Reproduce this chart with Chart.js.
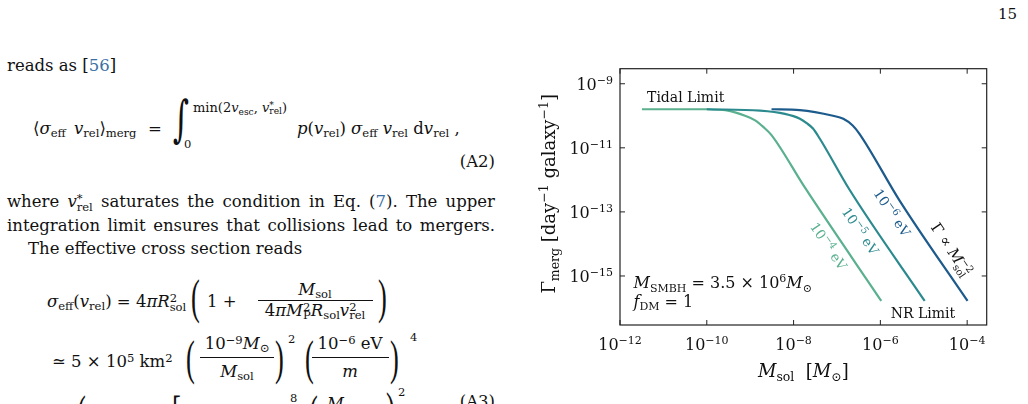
<!DOCTYPE html>
<html lang="en">
<head>
<meta charset="utf-8">
<title>Merger rate vs soliton mass</title>
<script src="https://cdn.jsdelivr.net/npm/chart.js@4.4.1/dist/chart.umd.min.js"></script>
<style>
html, body { margin: 0; padding: 0; background: #fff; }
body { position: relative; width: 1028px; height: 404px; overflow: hidden;
  font-family: "DejaVu Serif", serif; font-size: 16.5px; color: #111; }
.b { position: absolute; line-height: 1; white-space: nowrap; top: calc(var(--b) - 0.846em); }
.c { transform: translateX(-50%); }
.j { width: 488px; text-align: justify; text-align-last: justify; }
.sm { font-size: 11.5px; }
i { font-style: italic; }
sub, sup { font-size: 0.7em; line-height: 0; }
sub { vertical-align: -0.3em; }
sup { vertical-align: 0.45em; }
.cite { color: #3b6fa3; }
.bar { position: absolute; height: 1px; background: #111; }
.pr { position: absolute; line-height: 1; font-family: "Liberation Serif", serif; font-size: 48px;
  top: calc(var(--b) - 0.8375em); transform: scaleX(0.55); transform-origin: left; }
.intg { position: absolute; line-height: 1; font-size: 50px; top: calc(var(--b) - 0.846em);
  transform: scaleX(0.62); transform-origin: left; }
#chartBox { position: absolute; left: 530px; top: 55px; width: 470px; height: 345px; }
</style>
</head>
<body>

<div class="b" style="right:11px;--b:20px;font-size:15px">15</div>

<div class="b" style="left:7px;--b:71.5px">reads as [<span class="cite">56</span>]</div>

<!-- (A2) -->
<div class="b" style="left:33px;--b:135px;word-spacing:3px">⟨<i>σ</i><sub>eff</sub> <i>v</i><sub>rel</sub>⟩<sub>merg</sub>&thinsp; = </div>
<div class="intg" style="left:173px;--b:136px">∫</div>
<div class="b" style="left:193px;--b:111.5px;font-size:13px">min(2<i>v</i><sub>esc</sub>, <i>v</i><sup>*</sup><sub style="margin-left:-0.5em">rel</sub>)</div>
<div class="b sm" style="left:184px;--b:148.5px">0</div>
<div class="b" style="left:297px;--b:135px"><i>p</i>(<i>v</i><sub>rel</sub>) <i>σ</i><sub>eff</sub> <i>v</i><sub>rel</sub> d<i>v</i><sub>rel</sub> ,</div>
<div class="b" style="right:533px;--b:168.3px">(A2)</div>

<div class="b j" style="left:7px;--b:208.3px">where <i>v</i><sup>*</sup><sub style="margin-left:-0.5em">rel</sub> saturates the condition in Eq. (<span class="cite">7</span>). The upper</div>
<div class="b j" style="left:7px;--b:231.7px">integration limit ensures that collisions lead to mergers.</div>
<div class="b" style="left:28px;--b:255px">The effective cross section reads</div>

<!-- (A3) first row -->
<div class="b" style="left:47px;--b:308.3px"><i>σ</i><sub>eff</sub>(<i>v</i><sub>rel</sub>) = 4<i>πR</i><sup>2</sup><sub style="margin-left:-0.636em">sol</sub></div>
<div class="pr" style="left:191px;--b:313px">(</div>
<div class="b" style="left:207px;--b:308.3px">1 +</div>
<div class="b c" style="left:315px;--b:296px"><i>M</i><sub>sol</sub></div>
<div class="bar" style="left:258px;top:300px;width:115px"></div>
<div class="b c" style="left:315px;--b:316.7px">4<i>πM</i><sup>2</sup><sub style="margin-left:-0.636em">P</sub><i>R</i><sub>sol</sub><i>v</i><sup>2</sup><sub style="margin-left:-0.636em">rel</sub></div>
<div class="pr" style="left:378px;--b:313px">)</div>

<!-- (A3) second row -->
<div class="b" style="left:52px;--b:368.3px">≃ 5 × 10<sup>5</sup> km<sup>2</sup></div>
<div class="pr" style="left:186px;--b:374px">(</div>
<div class="b c" style="left:237px;--b:350px">10<sup>−9</sup><i>M</i><sub>⊙</sub></div>
<div class="bar" style="left:200px;top:357px;width:74px"></div>
<div class="b c" style="left:237px;--b:378px"><i>M</i><sub>sol</sub></div>
<div class="pr" style="left:275px;--b:374px">)</div>
<div class="b sm" style="left:288px;--b:344px">2</div>
<div class="pr" style="left:305px;--b:374px">(</div>
<div class="b c" style="left:350px;--b:350px">10<sup>−6</sup> eV</div>
<div class="bar" style="left:312px;top:357px;width:77px"></div>
<div class="b c" style="left:350px;--b:378px"><i>m</i></div>
<div class="pr" style="left:390px;--b:374px">)</div>
<div class="b sm" style="left:410px;--b:342px">4</div>

<!-- (A3) third row, cut by the page edge -->
<div class="pr" style="left:77px;--b:429px">(</div>
<div class="pr" style="left:172px;--b:429px">[</div>
<div class="b sm" style="left:290px;--b:402.5px">8</div>
<div class="pr" style="left:309px;--b:429px">(</div>
<div class="b" style="left:327px;--b:410px"><i>M</i></div>
<div class="pr" style="left:386px;--b:426px">)</div>
<div class="b sm" style="left:398px;--b:396.5px">2</div>
<div class="b" style="right:533px;--b:408px">(A3)</div>

<div id="chartBox"><canvas id="mergChart"></canvas></div>

<script>
// ticks
const massTicks = [1e-12, 1e-10, 1e-8, 1e-6, 1e-4];
const rateTicks = [1e-9, 1e-11, 1e-13, 1e-15];

// axion mass exponents (eV) of the three curves
const axionExp = [-6, -5, -4];

// m = 1e-6 eV
const mass6 = [3.1e-9, 1.4e-8, 8.1e-8, 1.4e-7, 2.3e-7, 3.3e-7, 2.75e-6, 1.02e-4];
const rate6 = [1.6e-10, 1.5e-10, 1.0e-10, 8.1e-11, 5.0e-11, 2.75e-11, 2.3e-13, 1.66e-16];

// m = 1e-5 eV
const mass5 = [1e-10, 1.7e-9, 6.3e-9, 1.4e-8, 2.0e-8, 2.8e-8, 4.0e-8, 1.95e-7, 1.05e-5];
const rate5 = [1.6e-10, 1.45e-10, 1.15e-10, 8.1e-11, 5.9e-11, 4.0e-11, 1.95e-11, 4.9e-13, 1.66e-16];

// m = 1e-4 eV
const mass4 = [3.2e-12, 1e-10, 3.5e-10, 7.6e-10, 1.3e-9, 2.0e-9, 3.1e-9, 1.8e-8, 1.05e-6];
const rate4 = [1.6e-10, 1.6e-10, 1.4e-10, 1.0e-10, 7.2e-11, 4.5e-11, 2.5e-11, 5.9e-13, 1.66e-16];

const lineColors = ["#1d5b8c", "#2b8a8e", "#5ab08f"];

const SERIF = '"DejaVu Serif", serif';
const font = (size, italic) => (italic ? "italic " : "") + size + "px " + SERIF;

function toPoints(xs, ys) {
    return xs.map((x, i) => ({ x: x, y: ys[i] }));
}

// draws a run of text pieces; a piece can carry a stacked sup/sub pair
function drawRich(ctx, parts, x, y, align) {
    const widths = parts.map(p => {
        ctx.font = p.f;
        if (p.t !== undefined) return ctx.measureText(p.t).width;
        return Math.max(ctx.measureText(p.sup).width, ctx.measureText(p.sub).width);
    });
    const total = widths.reduce((s, w) => s + w, 0);
    let cx = align === "center" ? x - total / 2 : align === "right" ? x - total : x;
    ctx.textAlign = "left";
    ctx.textBaseline = "alphabetic";
    parts.forEach((p, i) => {
        ctx.font = p.f;
        if (p.t !== undefined) {
            ctx.fillText(p.t, cx, y + (p.dy || 0));
        } else {
            ctx.fillText(p.sup, cx, y - p.up);
            ctx.fillText(p.sub, cx, y + p.down);
        }
        cx += widths[i];
    });
}

function powerLabel(v) {
    const e = Math.round(Math.log10(v));
    return [
        { t: "10", f: font(16) },
        { t: (e < 0 ? "\u2212" : "") + Math.abs(e), f: font(11), dy: -6 }
    ];
}

// text notes, anchored in data units
const notes = [
    { x: 4.2e-12, y: 2.7e-10, align: "left", parts: [{ t: "Tidal Limit", f: font(14) }] },
    { x: 1.74e-6, y: 4.8e-17, align: "left", parts: [{ t: "NR Limit", f: font(14) }] },
    { x: 2.05e-12, y: 4.2e-16, align: "left", parts: [
        { t: "M", f: font(16, true) }, { t: "SMBH", f: font(11), dy: 3.5 },
        { t: " = 3.5 × 10", f: font(16) }, { t: "6", f: font(11), dy: -6.5 },
        { t: "M", f: font(16, true) }, { t: "\u2299", f: font(11), dy: 3.5 }
    ] },
    { x: 2.05e-12, y: 1.1e-16, align: "left", parts: [
        { t: "f", f: font(16, true) }, { t: "DM", f: font(11), dy: 3.5 },
        { t: " = 1", f: font(16) }
    ] }
];

const slopeNotes = [
    { x: 1.79e-6, y: 9.1e-14, color: lineColors[0], exp: axionExp[0] },
    { x: 3.34e-7, y: 2.45e-14, color: lineColors[1], exp: axionExp[1] },
    { x: 6.2e-8, y: 8.3e-15, color: lineColors[2], exp: axionExp[2] }
];

const paperAxes = {
    id: "paperAxes",
    afterDraw(chart) {
        const ctx = chart.ctx;
        const a = chart.chartArea;
        const xs = chart.scales.x;
        const ys = chart.scales.y;

        ctx.save();
        ctx.strokeStyle = "#222";
        ctx.fillStyle = "#111";
        ctx.lineWidth = 1.2;
        ctx.strokeRect(a.left, a.top, a.right - a.left, a.bottom - a.top);

        // inward ticks on all four sides
        ctx.lineWidth = 1;
        ctx.beginPath();
        massTicks.forEach(v => {
            const px = xs.getPixelForValue(v);
            ctx.moveTo(px, a.bottom); ctx.lineTo(px, a.bottom - 5);
            ctx.moveTo(px, a.top); ctx.lineTo(px, a.top + 5);
        });
        rateTicks.forEach(v => {
            const py = ys.getPixelForValue(v);
            ctx.moveTo(a.left, py); ctx.lineTo(a.left + 5, py);
            ctx.moveTo(a.right, py); ctx.lineTo(a.right - 5, py);
        });
        ctx.stroke();

        massTicks.forEach(v => drawRich(ctx, powerLabel(v), xs.getPixelForValue(v), a.bottom + 25, "center"));
        rateTicks.forEach(v => drawRich(ctx, powerLabel(v), a.left - 7, ys.getPixelForValue(v) + 6, "right"));

        // axis titles
        drawRich(ctx, [
            { t: "M", f: font(18, true) }, { t: "sol", f: font(12.5), dy: 4 },
            { t: "  [", f: font(18) }, { t: "M", f: font(18, true) },
            { t: "\u2299", f: font(12.5), dy: 4 }, { t: "]", f: font(18) }
        ], (a.left + a.right) / 2, a.bottom + 52, "center");

        ctx.save();
        ctx.translate(a.left - 65, (a.top + a.bottom) / 2 - 3);
        ctx.rotate(-Math.PI / 2);
        drawRich(ctx, [
            { t: "\u0393", f: font(18) }, { t: "merg", f: font(12.5), dy: 4 },
            { t: " [day", f: font(18) }, { t: "\u22121", f: font(12.5), dy: -7 },
            { t: " galaxy", f: font(18) }, { t: "\u22121", f: font(12.5), dy: -7 },
            { t: "]", f: font(18) }
        ], 0, 0, "center");
        ctx.restore();

        notes.forEach(n => drawRich(ctx, n.parts, xs.getPixelForValue(n.x), ys.getPixelForValue(n.y), n.align));

        // labels along the M^-2 tails
        const ang = Math.atan2(
            ys.getPixelForValue(1e-16) - ys.getPixelForValue(1e-14),
            xs.getPixelForValue(1e-5) - xs.getPixelForValue(1e-6)
        );
        slopeNotes.forEach(n => {
            ctx.save();
            ctx.translate(xs.getPixelForValue(n.x), ys.getPixelForValue(n.y));
            ctx.rotate(ang);
            ctx.fillStyle = n.color;
            drawRich(ctx, [
                { t: "10", f: font(13.5) },
                { t: "\u2212" + Math.abs(n.exp), f: font(10), dy: -5.5 },
                { t: " eV", f: font(13.5) }
            ], 0, 4, "center");
            ctx.restore();
        });

        ctx.save();
        ctx.translate(xs.getPixelForValue(4.1e-5), ys.getPixelForValue(6.5e-15));
        ctx.rotate(ang);
        ctx.fillStyle = "#111";
        drawRich(ctx, [
            { t: "\u0393 \u221D ", f: font(15) },
            { t: "M", f: font(15, true) },
            { sup: "\u22122", sub: "sol", f: font(10), up: 6, down: 4 }
        ], 0, 4, "center");
        ctx.restore();

        ctx.restore();
    }
};

new Chart(document.getElementById("mergChart"), {
    type: "line",
    data: {
        datasets: [
            { label: "1e-6 eV", data: toPoints(mass6, rate6), borderColor: lineColors[0], order: 1 },
            { label: "1e-5 eV", data: toPoints(mass5, rate5), borderColor: lineColors[1], order: 2 },
            { label: "1e-4 eV", data: toPoints(mass4, rate4), borderColor: lineColors[2], order: 3 }
        ]
    },
    options: {
        responsive: true,
        maintainAspectRatio: false,
        animation: false,
        events: [],
        layout: { padding: { left: 90, right: 13.3, top: 13.7, bottom: 75 } },
        elements: {
            line: { borderWidth: 2.2, cubicInterpolationMode: "monotone", fill: false },
            point: { radius: 0 }
        },
        scales: {
            x: { type: "logarithmic", min: 1e-12, max: 2.82e-4, display: false },
            y: { type: "logarithmic", min: 2.95e-17, max: 2.95e-9, display: false }
        },
        plugins: {
            legend: { display: false },
            tooltip: { enabled: false }
        }
    },
    plugins: [paperAxes]
});
</script>
</body>
</html>
